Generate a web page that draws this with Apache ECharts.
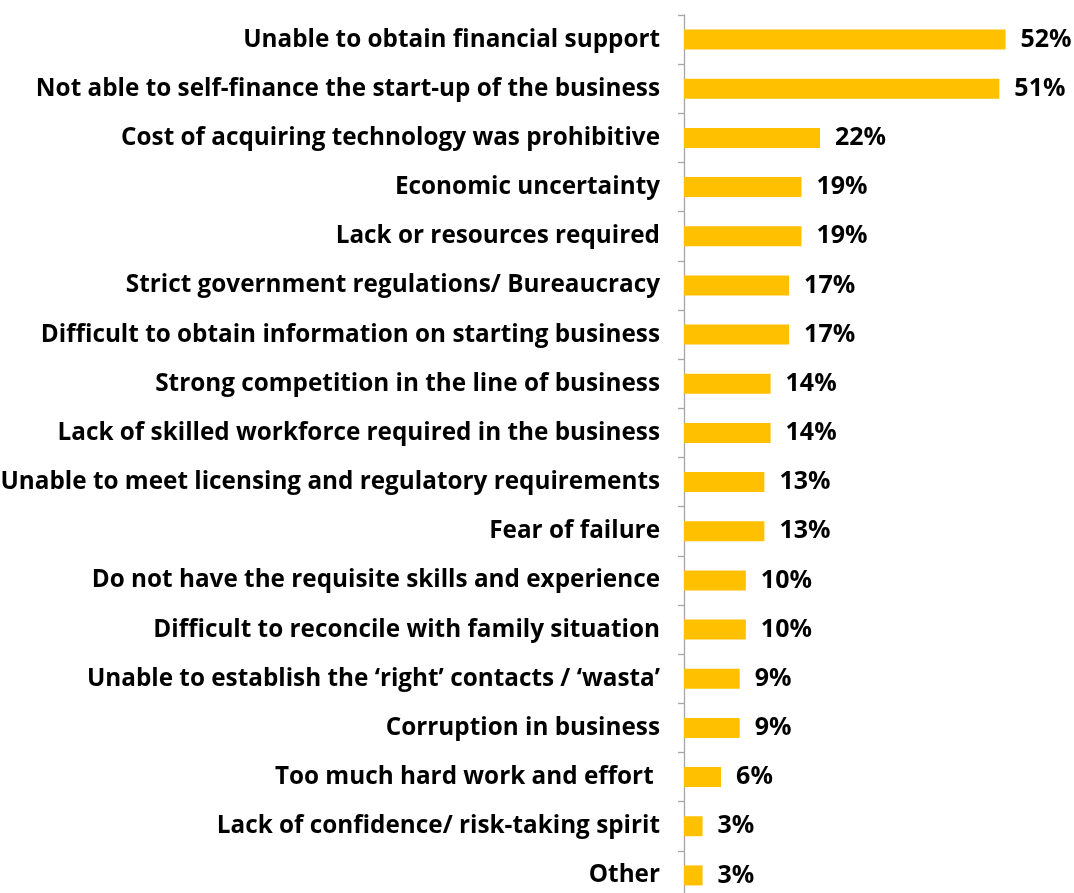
<!DOCTYPE html>
<html>
<head>
<meta charset="utf-8">
<script src="https://cdn.jsdelivr.net/npm/echarts@6/dist/echarts.min.js"></script>
<style>
  html, body { margin: 0; padding: 0; background: #fff; }
  #chart { width: 1074px; height: 893px; }
</style>
</head>
<body>
<div id="chart"></div>
<script>
// Reasons cited for not starting a business (% of respondents)
const categories = [
  'Unable to obtain financial support',
  'Not able to self-finance the start-up of the business',
  'Cost of acquiring technology was prohibitive',
  'Economic uncertainty',
  'Lack or resources required',
  'Strict government regulations/ Bureaucracy',
  'Difficult to obtain information on starting business',
  'Strong competition in the line of business',
  'Lack of skilled workforce required in the business',
  'Unable to meet licensing and regulatory requirements',
  'Fear of failure',
  'Do not have the requisite skills and experience',
  'Difficult to reconcile with family situation',
  'Unable to establish the \u2018right\u2019 contacts / \u2018wasta\u2019',
  'Corruption in business',
  'Too much hard work and effort ',
  'Lack of confidence/ risk-taking spirit',
  'Other'
];
const values = [52, 51, 22, 19, 19, 17, 17, 14, 14, 13, 13, 10, 10, 9, 9, 6, 3, 3];

const chart = echarts.init(document.getElementById('chart'));
chart.setOption({
  animation: false,
  grid: { left: 684, top: 15, right: 19, bottom: -7, outerBoundsMode: 'none' },
  xAxis: {
    type: 'value', min: 0, max: 60,
    show: false
  },
  yAxis: {
    type: 'category',
    data: categories,
    inverse: true,
    axisLine: { show: true, lineStyle: { color: '#a6a6a6', width: 1.3 } },
    axisTick: { show: true, length: 6, lineStyle: { color: '#a6a6a6', width: 1.3 } },
    axisLabel: {
      margin: 24,
      color: '#000',
      fontFamily: 'Open Sans',
      fontWeight: 'bold',
      fontSize: 24.3
    },
    splitLine: { show: false }
  },
  series: [{
    type: 'bar',
    data: values,
    barWidth: 20,
    itemStyle: { color: '#FFC000' },
    label: {
      show: true,
      position: 'right',
      distance: 15,
      formatter: '{c}%',
      color: '#000',
      fontFamily: 'Open Sans',
      fontWeight: 'bold',
      fontSize: 25
    }
  }]
});
</script>
</body>
</html>
